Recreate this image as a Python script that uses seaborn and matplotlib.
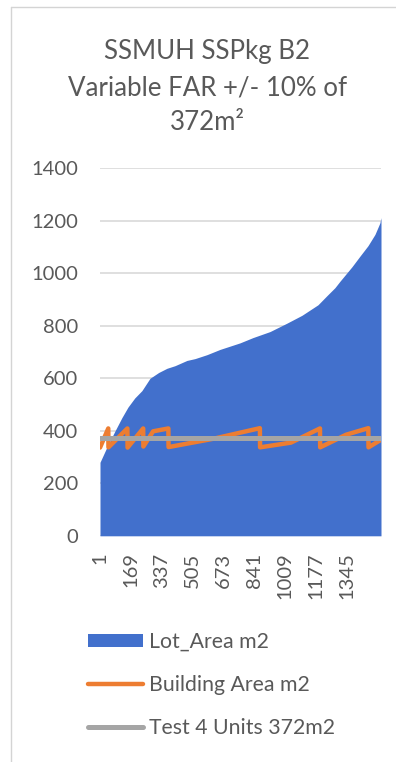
import matplotlib
matplotlib.use("Agg")
import matplotlib.pyplot as plt
import matplotlib.lines as mlines
import matplotlib.patches as mpatches
import seaborn as sns

# Lot area (sorted ascending), sampled along the lot index
lot_idx = [1, 40, 83, 120, 153, 190, 229, 273, 320, 365, 409, 474, 518, 583,
           654, 763, 833, 926, 1018, 1100, 1187, 1236, 1279, 1307, 1372, 1415,
           1459, 1497, 1524, 1530]
lot_val = [280, 340, 400, 450, 490, 525, 553, 600, 622, 638, 648, 668, 675, 690,
           710, 735, 755, 778, 810, 840, 880, 915, 945, 970, 1025, 1065,
           1105, 1148, 1192, 1212]

# Building area: saw-tooth kept within +/- 10% of 372 m2
bld_idx = [1, 46, 47, 150, 151, 236, 237, 290, 373, 374, 620, 871, 872, 1040,
           1198, 1199, 1340, 1461, 1462, 1530]
bld_val = [336, 409, 337, 409, 336, 409, 340, 398, 409, 338, 370, 410, 337, 355,
           409, 337, 385, 410, 337, 366]

# Target line
test_idx = [1, 1530]
test_val = [372, 372]

x_ticks = [1, 169, 337, 505, 673, 841, 1009, 1177, 1345]
y_ticks = [0, 200, 400, 600, 800, 1000, 1200, 1400]

title_lines = ["SSMUH SSPkg B2", "Variable FAR +/- 10% of", "372m\u00b2"]
series_names = ["Lot_Area m2", "Building Area m2", "Test 4 Units 372m2"]

BLUE = "#4270CC"
ORANGE = "#ED7D31"
GRAY = "#A5A5A5"
TEXT = "#595959"

sns.set_theme(style="white")
plt.rcParams["font.family"] = ["Lato", "DejaVu Sans"]

W, H = 396, 762
fig = plt.figure(figsize=(W / 100, H / 100), dpi=100)
fig.patch.set_facecolor("white")

# chart frame (left and top edges)
fig.add_artist(mlines.Line2D([11 / W, 11 / W], [0, 1 - 7 / H],
                             transform=fig.transFigure, color="#D4D4D4", lw=1))
fig.add_artist(mlines.Line2D([11 / W, 1], [1 - 7 / H, 1 - 7 / H],
                             transform=fig.transFigure, color="#D4D4D4", lw=1))

left, right, top, bottom = 100, 381, 168.3, 535.8
ax = fig.add_axes([left / W, 1 - bottom / H, (right - left) / W, (bottom - top) / H])

ax.fill_between(lot_idx, lot_val, 0, color=BLUE, lw=0, zorder=2)
sns.lineplot(x=bld_idx, y=bld_val, ax=ax, color=ORANGE, lw=3.2, sort=False,
             zorder=3)
sns.lineplot(x=test_idx, y=test_val, ax=ax, color=GRAY, lw=3.6, zorder=4)

ax.set_xlim(1, 1530)
ax.set_ylim(0, 1400)
ax.set_xticks(x_ticks)
ax.set_xticklabels([str(t) for t in x_ticks], rotation=90, ha="center", va="top")
ax.set_yticks(y_ticks)
ax.set_yticklabels([str(t) for t in y_ticks])
ax.tick_params(axis="x", length=0, pad=12, labelsize=14.5, colors=TEXT)
ax.tick_params(axis="y", length=0, pad=16, labelsize=14.5, colors=TEXT)
ax.yaxis.grid(True, color="#D9D9D9", lw=1.2, zorder=0)
ax.xaxis.grid(False)
ax.set_axisbelow(True)
for s in ax.spines.values():
    s.set_visible(False)
ax.set_xlabel("")
ax.set_ylabel("")

for line, ypx in zip(title_lines, [52, 88, 123]):
    fig.text(207.5 / W, 1 - ypx / H, line, ha="center", va="center",
             fontsize=18.6, color=TEXT)

handles = [
    mpatches.Patch(facecolor=BLUE, edgecolor="none"),
    mlines.Line2D([], [], color=ORANGE, lw=3.2),
    mlines.Line2D([], [], color=GRAY, lw=3.6),
]
fig.legend(handles, series_names, loc="center left",
           bbox_to_anchor=(88 / W, 1 - 685 / H), bbox_transform=fig.transFigure,
           frameon=False, fontsize=15.3, labelcolor=TEXT, borderpad=0,
           borderaxespad=0, handlelength=2.6, handleheight=0.55,
           handletextpad=0.25, labelspacing=1.1)

fig.savefig("out.png", dpi=100, facecolor="white")
